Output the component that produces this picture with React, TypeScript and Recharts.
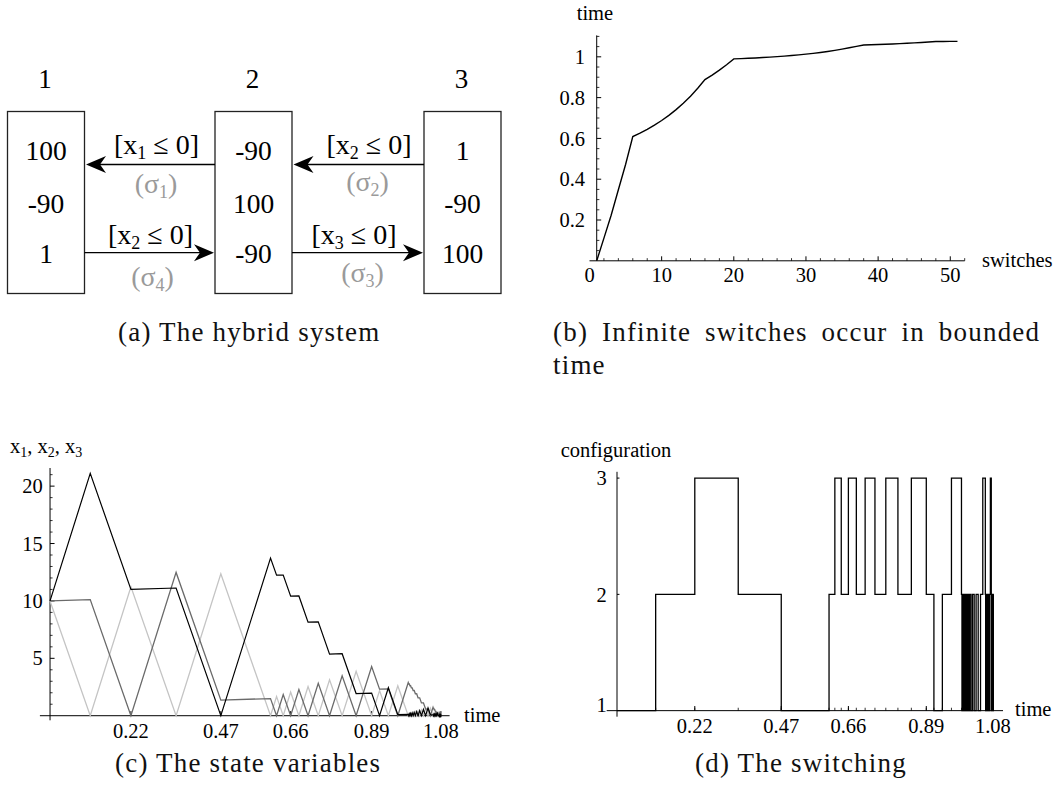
import React from "react";
import { LineChart, Line, XAxis, YAxis, ReferenceLine } from "recharts";

const SERIF = "'Liberation Serif', 'Times New Roman', Tinos, 'DejaVu Serif', serif";
const INK = "#000";
const SIGMA_GREY = "#9a9a9a";

// time of each switch (index 0 = start of the run)
const switchTimes = [
  0, 0.1111, 0.2235, 0.3483, 0.4719, 0.6092, 0.6259, 0.6443, 0.6648, 0.6876,
  0.7129, 0.7411, 0.7723, 0.8071, 0.8457, 0.8886, 0.9105, 0.9348, 0.9609, 0.9897,
  0.9911, 0.9927, 0.9944, 0.9963, 0.9984, 1.0007, 1.0033, 1.0062, 1.0094, 1.013,
  1.0169, 1.0213, 1.0262, 1.0317, 1.0377, 1.0444, 1.0509, 1.0582, 1.0592, 1.0604,
  1.0616, 1.063, 1.0646, 1.0663, 1.0683, 1.0704, 1.0727, 1.07531, 1.07541, 1.07551,
  1.07562, 1.07575, 1.07589, 1.07605, 1.07622, 1.07642, 1.07663, 1.07687, 1.07714, 1.07743,
  1.07776, 1.07812, 1.07853, 1.07898, 1.07948, 1.08003, 1.08065, 1.08134,
];

// configuration entered at each switch
const configs = [
  1, 2, 3, 2, 1, 2, 3, 2, 3, 2,
  3, 2, 3, 2, 3, 2, 1, 2, 3, 2,
  1, 2, 1, 2, 1, 2, 1, 2, 1, 2,
  1, 2, 1, 2, 1, 2, 3, 2, 1, 2,
  1, 2, 1, 2, 1, 2, 3, 2, 1, 2,
  1, 2, 1, 2, 1, 2, 1, 2, 1, 2,
  1, 2, 1, 2, 1, 2, 1, 2,
];

// state variables at each switch
const x1Vals = [
  10, 21.111, 11.0, 11.125, 0, 13.734, 12.239, 12.257, 10.411, 10.434,
  8.155, 8.183, 5.369, 5.404, 1.93, 1.973, 0, 2.436, 0.096, 0.124,
  0, 0.154, 0, 0.19, 0, 0.234, 0, 0.289, 0, 0.357,
  0, 0.44, 0, 0.544, 0, 0.671, 0.085, 0.092, 0, 0.114,
  0, 0.141, 0, 0.174, 0, 0.215, 0.006, 0.008, 0, 0.01,
  0, 0.013, 0, 0.016, 0, 0.019, 0, 0.024, 0, 0.03,
  0, 0.036, 0, 0.045, 0, 0.056, 0, 0.069,
];
const x2Vals = [
  10, 0, 11.235, 0, 12.361, 0, 1.662, 0, 2.051, 0,
  2.532, 0, 3.126, 0, 3.86, 0, 2.192, 0, 2.6, 0,
  0.138, 0, 0.171, 0, 0.211, 0, 0.26, 0, 0.321, 0,
  0.396, 0, 0.489, 0, 0.604, 0, 0.651, 0, 0.103, 0,
  0.127, 0, 0.157, 0, 0.193, 0, 0.232, 0, 0.009, 0,
  0.011, 0, 0.014, 0, 0.017, 0, 0.022, 0, 0.027, 0,
  0.033, 0, 0.04, 0, 0.05, 0, 0.062, 0,
];
const x3Vals = [
  10, 10.111, 0, 12.483, 1.358, 1.495, 0, 1.846, 0, 2.279,
  0, 2.814, 0, 3.474, 0, 4.289, 2.316, 2.34, 0, 2.889,
  2.765, 2.766, 2.613, 2.615, 2.425, 2.427, 2.193, 2.196, 1.907, 1.911,
  1.554, 1.558, 1.118, 1.123, 0.579, 0.586, 0, 0.724, 0.631, 0.632,
  0.518, 0.52, 0.379, 0.381, 0.207, 0.209, 0, 0.258, 0.25, 0.25,
  0.239, 0.239, 0.227, 0.227, 0.211, 0.211, 0.192, 0.192, 0.168, 0.169,
  0.139, 0.14, 0.103, 0.104, 0.059, 0.059, 0.003, 0.004,
];

// panel (b): switches counted 1..51
const countTicks = [0, 10, 20, 30, 40, 50];
const countTimeTicks = [0.2, 0.4, 0.6, 0.8, 1];

// panels (c) and (d)
const timeTicks = [0.2235, 0.4719, 0.6648, 0.8886, 1.08];
const timeTickLabels = ["0.22", "0.47", "0.66", "0.89", "1.08"];
const stateTicks = [5, 10, 15, 20];
const configTicks = [1, 2, 3];

// the hybrid system of panel (a)
const modes = [
  { name: "1", rates: ["100", "-90", "1"] },
  { name: "2", rates: ["-90", "100", "-90"] },
  { name: "3", rates: ["1", "-90", "100"] },
];
const edges = [
  { from: 1, to: 0, row: 0, guard: "1", sigma: "1" },
  { from: 2, to: 1, row: 0, guard: "2", sigma: "2" },
  { from: 0, to: 1, row: 1, guard: "2", sigma: "4" },
  { from: 1, to: 2, row: 1, guard: "3", sigma: "3" },
];

const steps = (a: number, b: number, s: number) => {
  const out: number[] = [];
  for (let v = a; v <= b + 1e-9; v += s) out.push(+v.toFixed(4));
  return out;
};

const switchData = switchTimes.slice(0, 51).map((time, i) => ({ n: i + 1, time }));
const stateData = switchTimes.map((t, i) => ({ t, x1: x1Vals[i], x2: x2Vals[i], x3: x3Vals[i] }));
const configData = switchTimes.map((t, i) => ({ t, c: configs[i] }));

const countMinor = steps(2, 52, 2).filter((v) => v % 10 !== 0);
const countTimeMinor = steps(0.05, 1.1, 0.05).filter((v) => Math.abs(v * 5 - Math.round(v * 5)) > 1e-6);
const stateMinor = steps(1, 21, 1).filter((v) => v % 5 !== 0);
const switchMarks = switchTimes.slice(1, 20);

const AX = 20.5;
const serif = { fontFamily: SERIF };

const xLabel = (dy: number, labels?: string[], values?: number[]) => (p: any) => {
  const v = p.payload.value;
  const i = values ? values.indexOf(v) : -1;
  const text = labels && i >= 0 ? labels[i] : String(v);
  return (
    <text x={p.x} y={p.y + dy} textAnchor="middle" fontSize={AX} style={serif} fill={INK}>
      {text}
    </text>
  );
};

const yLabel = (dx: number, lift?: (v: number) => number) => (p: any) => {
  const v = p.payload.value;
  return (
    <text
      x={p.x + dx}
      y={p.y - (lift ? lift(v) : 0)}
      dy="0.35em"
      textAnchor="end"
      fontSize={AX}
      style={serif}
      fill={INK}
    >
      {String(v)}
    </text>
  );
};

function Diagram() {
  const boxX = [7.5, 215, 424];
  const boxW = 77;
  const boxTop = 111.5;
  const boxBottom = 293.5;
  const rowBase = [160, 213, 263];
  const arrowY = [164.5, 252.7];
  const guardX = [156.5, 369, 150.5, 354];
  const sigmaX = [156, 367.5, 152.5, 362.5];
  const guardBase = [154, 154, 244, 244];
  const sigmaBase = [193, 191, 285.5, 281.5];

  return (
    <g style={serif} fill={INK}>
      {modes.map((m, i) => {
        const cx = boxX[i] + boxW / 2;
        return (
          <g key={m.name}>
            <text x={cx - 1} y={88} textAnchor="middle" fontSize={27}>
              {m.name}
            </text>
            <rect x={boxX[i]} y={boxTop} width={boxW} height={boxBottom - boxTop} fill="none" stroke="#222" strokeWidth={1.3} />
            {m.rates.map((r, j) => (
              <text key={j} x={cx} y={rowBase[j]} textAnchor="middle" fontSize={27.5}>
                {r}
              </text>
            ))}
          </g>
        );
      })}
      {edges.map((e, k) => {
        const right = e.to > e.from;
        const tail = right ? boxX[e.from] + boxW : boxX[e.from];
        const tip = right ? boxX[e.to] - 1 : boxX[e.to] + boxW + 1.5;
        const y = arrowY[e.row];
        const d = right ? -1 : 1;
        const head = `M${tip},${y} L${tip + d * 20},${y - 8.5} L${tip + d * 14},${y} L${tip + d * 20},${y + 8.5} Z`;
        return (
          <g key={k}>
            <line x1={tail} y1={y} x2={tip + d * 12} y2={y} stroke={INK} strokeWidth={1.3} />
            <path d={head} fill={INK} stroke="none" />
            <text x={guardX[k]} y={guardBase[k]} textAnchor="middle" fontSize={28}>
              [x<tspan fontSize={18} dy={5}>{e.guard}</tspan>
              <tspan dy={-5}> ≤ 0]</tspan>
            </text>
            <text x={sigmaX[k]} y={sigmaBase[k]} textAnchor="middle" fontSize={28} fill={SIGMA_GREY}>
              (σ<tspan fontSize={18} dy={5}>{e.sigma}</tspan>
              <tspan dy={-5}>)</tspan>
            </text>
          </g>
        );
      })}
    </g>
  );
}

function SwitchesChart() {
  return (
    <LineChart width={538} height={300} data={switchData} margin={{ top: 35.4, right: 93.3, bottom: 9.2, left: 9.5 }}>
      <XAxis
        dataKey="n"
        type="number"
        domain={[0, 52]}
        allowDataOverflow
        ticks={countTicks}
        interval={0}
        axisLine={false}
        tickLine={false}
        tickSize={0}
        tickMargin={0}
        height={30}
        tick={xLabel(21)}
      />
      <YAxis
        type="number"
        domain={[0, 1.105]}
        allowDataOverflow
        ticks={countTimeTicks}
        interval={0}
        axisLine={false}
        tickLine={false}
        tickSize={0}
        tickMargin={0}
        width={60}
        tick={yLabel(-4.5)}
      />
      <ReferenceLine y={0} stroke={INK} strokeWidth={1} />
      <ReferenceLine x={1} stroke={INK} strokeWidth={1} />
      {countTicks.slice(1).map((v) => (
        <ReferenceLine key={"bx" + v} segment={[{ x: v, y: 0 }, { x: v, y: 0.022 }]} stroke={INK} strokeWidth={1} />
      ))}
      {countMinor.map((v) => (
        <ReferenceLine key={"bxm" + v} segment={[{ x: v, y: 0 }, { x: v, y: 0.013 }]} stroke={INK} strokeWidth={0.8} />
      ))}
      {countTimeTicks.map((v) => (
        <ReferenceLine key={"by" + v} segment={[{ x: 1, y: v }, { x: 1.62, y: v }]} stroke={INK} strokeWidth={1} />
      ))}
      {countTimeMinor.map((v) => (
        <ReferenceLine key={"bym" + v} segment={[{ x: 1, y: v }, { x: 1.37, y: v }]} stroke={INK} strokeWidth={0.8} />
      ))}
      <Line dataKey="time" stroke={INK} strokeWidth={1.4} dot={false} activeDot={false} isAnimationActive={false} />
    </LineChart>
  );
}

function StatesChart() {
  return (
    <LineChart width={520} height={340} data={stateData} margin={{ top: 48, right: 70.4, bottom: 9.7, left: 9.9 }}>
      <XAxis
        dataKey="t"
        type="number"
        domain={[-0.028, 1.104]}
        allowDataOverflow
        ticks={timeTicks}
        interval={0}
        axisLine={false}
        tickLine={false}
        tickSize={0}
        tickMargin={0}
        height={30}
        tick={xLabel(17.7, timeTickLabels, timeTicks)}
      />
      <YAxis
        type="number"
        domain={[-0.4, 21.58]}
        allowDataOverflow
        ticks={stateTicks}
        interval={0}
        axisLine={false}
        tickLine={false}
        tickSize={0}
        tickMargin={0}
        width={30}
        tick={yLabel(2.8)}
      />
      <ReferenceLine y={0} stroke={INK} strokeWidth={1} />
      <ReferenceLine x={0} stroke={INK} strokeWidth={1} />
      {stateTicks.map((v) => (
        <ReferenceLine key={"cy" + v} segment={[{ x: 0, y: v }, { x: 0.0125, y: v }]} stroke={INK} strokeWidth={1} />
      ))}
      {stateMinor.map((v) => (
        <ReferenceLine key={"cym" + v} segment={[{ x: 0, y: v }, { x: 0.007, y: v }]} stroke={INK} strokeWidth={0.8} />
      ))}
      {timeTicks.map((v) => (
        <ReferenceLine key={"cx" + v} segment={[{ x: v, y: 0 }, { x: v, y: 0.4 }]} stroke={INK} strokeWidth={1} />
      ))}
      <Line dataKey="x2" stroke="#c4c4c4" strokeWidth={1.3} dot={false} activeDot={false} isAnimationActive={false} />
      <Line dataKey="x3" stroke="#6a6a6a" strokeWidth={1.3} dot={false} activeDot={false} isAnimationActive={false} />
      <Line dataKey="x1" stroke={INK} strokeWidth={1.2} dot={false} activeDot={false} isAnimationActive={false} />
    </LineChart>
  );
}

function ConfigChart() {
  return (
    <LineChart width={518} height={340} data={configData} margin={{ top: 51.8, right: 55, bottom: 13.3, left: 26.7 }}>
      <XAxis
        dataKey="t"
        type="number"
        domain={[-0.0296, 1.109]}
        allowDataOverflow
        ticks={timeTicks}
        interval={0}
        axisLine={false}
        tickLine={false}
        tickSize={0}
        tickMargin={0}
        height={30}
        tick={xLabel(16.3, timeTickLabels, timeTicks)}
      />
      <YAxis
        type="number"
        domain={[0.948, 3.054]}
        allowDataOverflow
        ticks={configTicks}
        interval={0}
        axisLine={false}
        tickLine={false}
        tickSize={0}
        tickMargin={0}
        width={40}
        tick={yLabel(0, (v) => (v === 1 ? 6 : 0))}
      />
      <ReferenceLine y={1} stroke={INK} strokeWidth={1} />
      <ReferenceLine x={0} stroke={INK} strokeWidth={1} />
      {configTicks.slice(1).map((v) => (
        <ReferenceLine key={"dy" + v} segment={[{ x: 0, y: v }, { x: 0.007, y: v }]} stroke={INK} strokeWidth={1} />
      ))}
      {switchMarks.map((v) => (
        <ReferenceLine key={"dxm" + v} segment={[{ x: v, y: 1 }, { x: v, y: 1.025 }]} stroke={INK} strokeWidth={0.8} />
      ))}
      {timeTicks.map((v) => (
        <ReferenceLine key={"dx" + v} segment={[{ x: v, y: 1 }, { x: v, y: 1.04 }]} stroke={INK} strokeWidth={1} />
      ))}
      <Line type="stepAfter" dataKey="c" stroke={INK} strokeWidth={1.3} dot={false} activeDot={false} isAnimationActive={false} />
    </LineChart>
  );
}

export default function App() {
  const cap = { fontSize: 27, fill: "#111", letterSpacing: 1.2 } as const;
  const ax = { fontSize: AX, fill: INK } as const;
  return (
    <div style={{ position: "absolute", left: 0, top: 0, width: 1058, height: 795, background: "#fff", overflow: "hidden", fontFamily: SERIF }}>
      <svg width={1058} height={795} style={{ position: "absolute", left: 0, top: 0, fontFamily: SERIF }}>
        <Diagram />
        <text x={576.7} y={20} {...ax}>time</text>
        <text x={982} y={266.5} {...ax}>switches</text>
        <text x={10} y={452.7} {...ax}>
          x<tspan fontSize={14} dy={4}>1</tspan>
          <tspan dy={-4}>, x</tspan>
          <tspan fontSize={14} dy={4}>2</tspan>
          <tspan dy={-4}>, x</tspan>
          <tspan fontSize={14} dy={4}>3</tspan>
        </text>
        <text x={464} y={722} {...ax}>time</text>
        <text x={560.7} y={456.5} {...ax}>configuration</text>
        <text x={1015} y={716} {...ax}>time</text>
        <text x={118} y={341} {...cap}>(a) The hybrid system</text>
        <text x={553} y={341} {...cap} wordSpacing={6}>(b) Infinite switches occur in bounded</text>
        <text x={553} y={374} {...cap}>time</text>
        <text x={115} y={772} {...cap}>(c) The state variables</text>
        <text x={695} y={772} {...cap}>(d) The switching</text>
      </svg>
      <div style={{ position: "absolute", left: 520, top: 0 }}>
        <SwitchesChart />
      </div>
      <div style={{ position: "absolute", left: 0, top: 420 }}>
        <StatesChart />
      </div>
      <div style={{ position: "absolute", left: 540, top: 420 }}>
        <ConfigChart />
      </div>
    </div>
  );
}
